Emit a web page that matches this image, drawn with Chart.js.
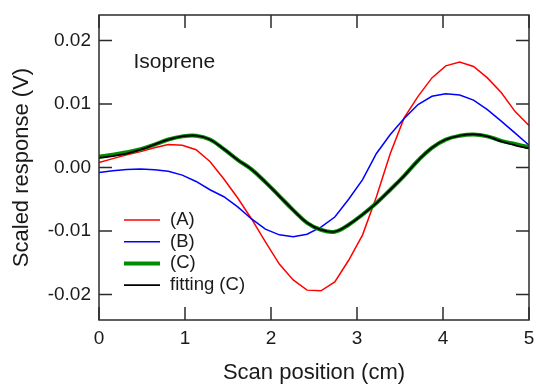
<!DOCTYPE html>
<html>
<head>
<meta charset="utf-8">
<script src="https://cdn.jsdelivr.net/npm/chart.js@4"></script>
<style>
  body { margin: 0; background: #fff; }
  #wrap { width: 536px; height: 386px; }
</style>
</head>
<body>
<div id="wrap"><canvas id="canvas" width="536" height="386"></canvas></div>
<script>
// scan positions (cm)
const xPos = [0, 0.161, 0.323, 0.484, 0.645, 0.806, 0.968, 1.129, 1.290, 1.452, 1.613,
  1.774, 1.935, 2.097, 2.258, 2.419, 2.581, 2.742, 2.903, 3.065, 3.226, 3.387, 3.548,
  3.710, 3.871, 4.032, 4.194, 4.355, 4.516, 4.677, 4.839, 5]

const seriesA = [0.0008, 0.0014, 0.0020, 0.0025, 0.0031, 0.0036, 0.0035, 0.0028, 0.00095, -0.0018, -0.0048,
  -0.0081, -0.0117, -0.0152, -0.0177, -0.0193, -0.0194, -0.0180, -0.0146, -0.0106, -0.0046, 0.0022, 0.0078,
  0.0112, 0.0141, 0.0160, 0.0166, 0.0159, 0.0141, 0.0118, 0.0088, 0.0066]

const seriesB = [-0.0008, -0.0005, -0.0003, -0.00025, -0.00035, -0.0006, -0.0012, -0.0022, -0.0035, -0.0046, -0.0062,
  -0.0081, -0.0097, -0.0106, -0.0109, -0.0105, -0.0094, -0.0078, -0.0050, -0.0019, 0.0022, 0.0052, 0.0077,
  0.0099, 0.0112, 0.0116, 0.0114, 0.0106, 0.0091, 0.0073, 0.0054, 0.0035]

const seriesC = [0.0017, 0.0020, 0.0024, 0.0029, 0.0036, 0.0044, 0.0049, 0.0050, 0.0044, 0.0029, 0.0012,
  -0.0003, -0.0023, -0.0045, -0.0067, -0.0087, -0.0098, -0.0101, -0.0090, -0.0074, -0.0056, -0.0035, -0.0013,
  0.0011, 0.0031, 0.0044, 0.0050, 0.0052, 0.0049, 0.0042, 0.0037, 0.0032]

const fitC = [0.0015, 0.0018, 0.0022, 0.0028, 0.0036, 0.0044, 0.0049, 0.0050, 0.0044, 0.0029, 0.0012,
  -0.0003, -0.0023, -0.0045, -0.0067, -0.0087, -0.0098, -0.0101, -0.0090, -0.0074, -0.0056, -0.0035, -0.0013,
  0.0011, 0.0031, 0.0044, 0.0050, 0.0052, 0.0049, 0.0041, 0.0035, 0.0030]

const xTicks = [0, 1, 2, 3, 4, 5]
const yTicks = [-0.02, -0.01, 0, 0.01, 0.02]

function pts(ys) {
  return xPos.map(function (x, i) { return { x: x, y: ys[i] } })
}

const frame = {
  id: 'frame',
  afterDraw: function (chart) {
    const ctx = chart.ctx
    const a = chart.chartArea
    const len = 13
    ctx.save()
    ctx.strokeStyle = '#2b2b2b'
    ctx.lineWidth = 1.5
    ctx.strokeRect(a.left, a.top, a.right - a.left, a.bottom - a.top)
    ctx.beginPath()
    xTicks.forEach(function (v) {
      const px = chart.scales.x.getPixelForValue(v)
      ctx.moveTo(px, a.bottom); ctx.lineTo(px, a.bottom - len)
      ctx.moveTo(px, a.top); ctx.lineTo(px, a.top + len)
    })
    yTicks.forEach(function (v) {
      const py = chart.scales.y.getPixelForValue(v)
      ctx.moveTo(a.left, py); ctx.lineTo(a.left + len, py)
      ctx.moveTo(a.right, py); ctx.lineTo(a.right - len, py)
    })
    ctx.stroke()

    // legend inside plot
    ctx.font = '18.5px "Liberation Sans", Arial, sans-serif'
    ctx.fillStyle = '#1a1a1a'
    ctx.textBaseline = 'middle'
    const sets = chart.data.datasets
    for (let i = 0; i < sets.length; i++) {
      const y = 220 + i * 21.7
      ctx.beginPath()
      ctx.strokeStyle = sets[i].borderColor
      ctx.lineWidth = sets[i].borderWidth
      ctx.moveTo(124, y); ctx.lineTo(160, y)
      ctx.stroke()
      ctx.fillText(sets[i].label, 170, y)
    }

    ctx.font = '21px "Liberation Sans", Arial, sans-serif'
    ctx.textBaseline = 'alphabetic'
    ctx.fillText('Isoprene', 133.5, 68.3)
    ctx.restore()
  }
}

const tickFont = { family: '"Liberation Sans", Arial, sans-serif', size: 19 }
const titleFont = { family: '"Liberation Sans", Arial, sans-serif', size: 22 }

const data = {
  datasets: [
    { label: '(A)', data: pts(seriesA), borderColor: '#ff0000', borderWidth: 1.5, tension: 0, order: 3 },
    { label: '(B)', data: pts(seriesB), borderColor: '#0000ff', borderWidth: 1.5, tension: 0, order: 2 },
    { label: '(C)', data: pts(seriesC), borderColor: '#008c00', borderWidth: 4, tension: 0.4, order: 1 },
    { label: 'fitting (C)', data: pts(fitC), borderColor: '#000000', borderWidth: 1.8, tension: 0.4, order: 0 }
  ]
}

const config = {
  type: 'line',
  data: data,
  options: {
    responsive: false,
    animation: false,
    layout: { padding: { left: 0, top: 15, right: 7, bottom: 0 } },
    elements: { point: { radius: 0 } },
    plugins: { legend: { display: false }, tooltip: { enabled: false } },
    scales: {
      x: {
        type: 'linear', min: 0, max: 5,
        grid: { display: false, drawTicks: false },
        border: { display: false },
        ticks: { stepSize: 1, padding: 7, color: '#1a1a1a', font: tickFont, maxRotation: 0 },
        title: { display: true, text: 'Scan position (cm)', color: '#1a1a1a', font: titleFont, padding: { top: 0, bottom: 0 } },
        afterFit: function (s) { s.height = 66; s.paddingLeft = 0; s.paddingRight = 0 }
      },
      y: {
        type: 'linear', min: -0.024, max: 0.024,
        grid: { display: false, drawTicks: false },
        border: { display: false },
        ticks: {
          stepSize: 0.01, includeBounds: false, padding: 8, color: '#1a1a1a', font: tickFont,
          callback: function (v) {
            const r = Math.round(v * 100) / 100
            return Math.abs(r) < 1e-9 ? '0.00' : r.toFixed(2)
          }
        },
        title: { display: true, text: 'Scaled response (V)', color: '#1a1a1a', font: titleFont, padding: { top: 9, bottom: 0 } },
        afterFit: function (s) { s.width = 99; s.paddingTop = 0; s.paddingBottom = 0 }
      }
    }
  },
  plugins: [frame]
}

const canvas = document.getElementById('canvas')
const chart = new Chart(canvas, config)
</script>
</body>
</html>
